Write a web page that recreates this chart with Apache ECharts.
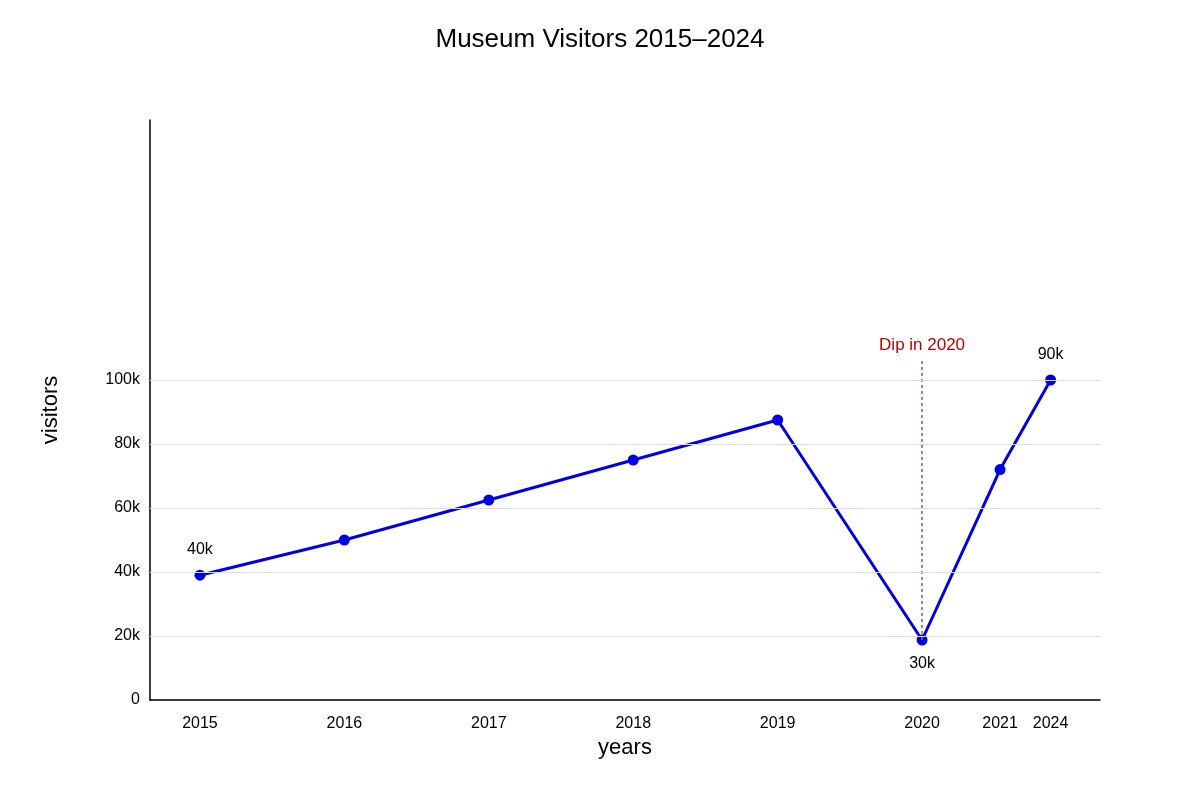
<!DOCTYPE html>
<html><head><meta charset="utf-8">
<script src="https://cdn.jsdelivr.net/npm/echarts@6/dist/echarts.min.js"></script>
<style>html,body{margin:0;padding:0;background:#fff}#c{width:1200px;height:800px}</style>
</head><body><div id="c"></div>
<script>
const xPositions = [2015, 2016, 2017, 2018, 2019, 2020, 2020.54, 2020.89];
const yearLabels = ['2015','2016','2017','2018','2019','2020','2021','2024'];
const visitors = [39000, 50000, 62500, 75000, 87500, 18750, 72000, 100000];
const pointLabels = {0:'40k', 5:'30k', 7:'90k'};
const yTicks = [0, 20000, 40000, 60000, 80000, 100000];
const yTickLabels = ['0','20k','40k','60k','80k','100k'];
const dipX = 2020, dipTop = 106250;

const chart = echarts.init(document.getElementById('c'));
const font = 'Liberation Sans, Arial, sans-serif';
chart.setOption({
  animation:false,
  textStyle:{fontFamily:font},
  title:{text:'Museum Visitors 2015\u20132024',left:'center',top:22,textStyle:{fontFamily:font,fontSize:26,fontWeight:'normal',color:'#000'}},
  grid:{left:150,right:100,top:120,bottom:100},
  xAxis:{type:'value',min:2014.654,max:2021.232,
    name:'years',nameLocation:'middle',nameGap:30,nameTextStyle:{fontSize:22,color:'#000',fontFamily:font},
    axisLine:{lineStyle:{color:'#000',width:1.5}},axisTick:{show:false},splitLine:{show:false},
    axisLabel:{customValues:xPositions,color:'#000',fontSize:16,margin:16,
      formatter:v=>{const i=xPositions.findIndex(p=>Math.abs(p-v)<1e-6);return i>=0?yearLabels[i]:'';}}},
  yAxis:{type:'value',min:0,max:181250,
    name:'visitors',nameLocation:'middle',nameGap:88,nameTextStyle:{fontSize:22,color:'#000',fontFamily:font},
    axisLine:{show:true,lineStyle:{color:'#000',width:1.5}},axisTick:{show:false},
    axisLabel:{customValues:yTicks,color:'#000',fontSize:16,margin:10,
      formatter:v=>{const i=yTicks.indexOf(v);return i>=0?yTickLabels[i]:'';}},
    splitLine:{show:true,lineStyle:{color:'#ddd'}},
    splitNumber:1},
  series:[{
    type:'line',
    data:xPositions.map((x,i)=>({value:[x,visitors[i]],
      label:{show:pointLabels[i]!==undefined,formatter:pointLabels[i]||'',position:i===5?'bottom':'top',distance:i===5?10:12,fontSize:16,color:'#000'}})),
    lineStyle:{color:'#0000e6',width:3},itemStyle:{color:'#0000e6'},
    symbol:'circle',symbolSize:11,
    markLine:{symbol:'none',silent:true,
      lineStyle:{color:'#b05050',type:[3,3],width:1.5},
      label:{show:true,position:'end',formatter:'Dip in 2020',color:'#c00000',fontSize:17,distance:6},
      data:[[{coord:[dipX,visitors[5]]},{coord:[dipX,dipTop]}]]}
  }]
});
// gridlines: hide the one at 0 visually covered by axis; ensure only ticks lines
chart.setOption({yAxis:{splitLine:{show:false}},series:[{},{
  type:'line',data:[],markLine:{symbol:'none',silent:true,lineStyle:{color:'#ddd',type:'solid',width:1},label:{show:false},
    data:yTicks.filter(v=>v>0).map(v=>({yAxis:v}))}}]});
</script></body></html>
